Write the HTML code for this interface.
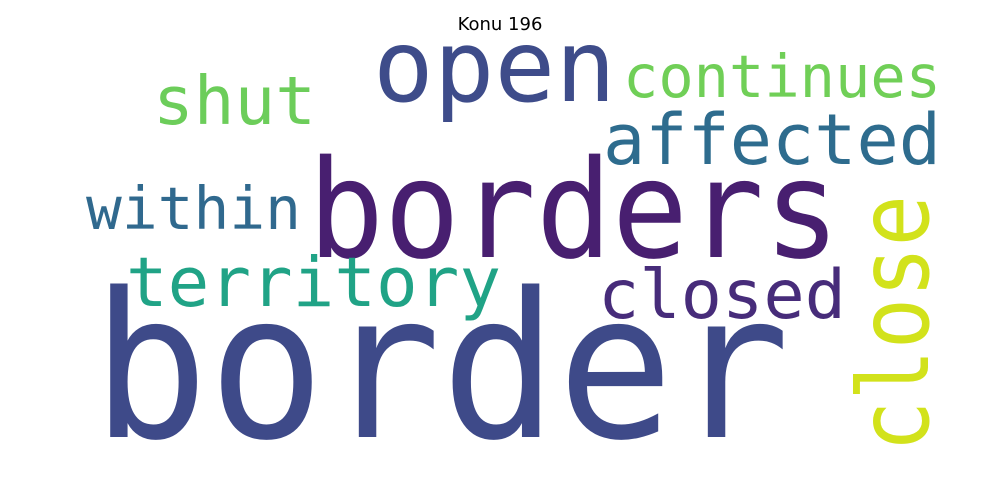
<!DOCTYPE html>
<html><head><meta charset="utf-8"><style>
html,body{margin:0;padding:0;background:#fff;}
svg{display:block;}
.w{font-family:"DejaVu Sans Mono","Liberation Mono",monospace;}
</style></head><body>
<svg width="1000" height="500" viewBox="0 0 1000 500" xmlns="http://www.w3.org/2000/svg">
<rect width="1000" height="500" fill="#fff"/>
<text x="500" y="30" text-anchor="middle" font-family="DejaVu Sans, Liberation Sans, sans-serif" font-size="18" fill="#000">Konu 196</text>
<g class="w">
<text x="92" y="437" font-size="202" fill="#3e4a89" textLength="698" lengthAdjust="spacingAndGlyphs">border</text>
<text x="308" y="257" font-size="136" fill="#481f70" textLength="532" lengthAdjust="spacingAndGlyphs">borders</text>
<text x="373" y="101" font-size="100" fill="#3e4c8a" textLength="243" lengthAdjust="spacingAndGlyphs">open</text>
<text x="153" y="124" font-size="67" fill="#6ccd5a" textLength="163" lengthAdjust="spacingAndGlyphs">shut</text>
<text x="623" y="97" font-size="59" fill="#70cf57" textLength="318" lengthAdjust="spacingAndGlyphs">continues</text>
<text x="603" y="164" font-size="70" fill="#2e6c8e" textLength="338" lengthAdjust="spacingAndGlyphs">affected</text>
<text x="86" y="229" font-size="59" fill="#30698e" textLength="215" lengthAdjust="spacingAndGlyphs">within</text>
<text x="126" y="306" font-size="69" fill="#20a386" textLength="375" lengthAdjust="spacingAndGlyphs">territory</text>
<text x="598" y="318" font-size="68" fill="#472c7a" textLength="248" lengthAdjust="spacingAndGlyphs">closed</text>
<text x="0" y="0" font-size="98" fill="#d2e21b" transform="translate(928,452) rotate(-90)" textLength="257" lengthAdjust="spacingAndGlyphs">close</text>
</g>
</svg>
</body></html>
